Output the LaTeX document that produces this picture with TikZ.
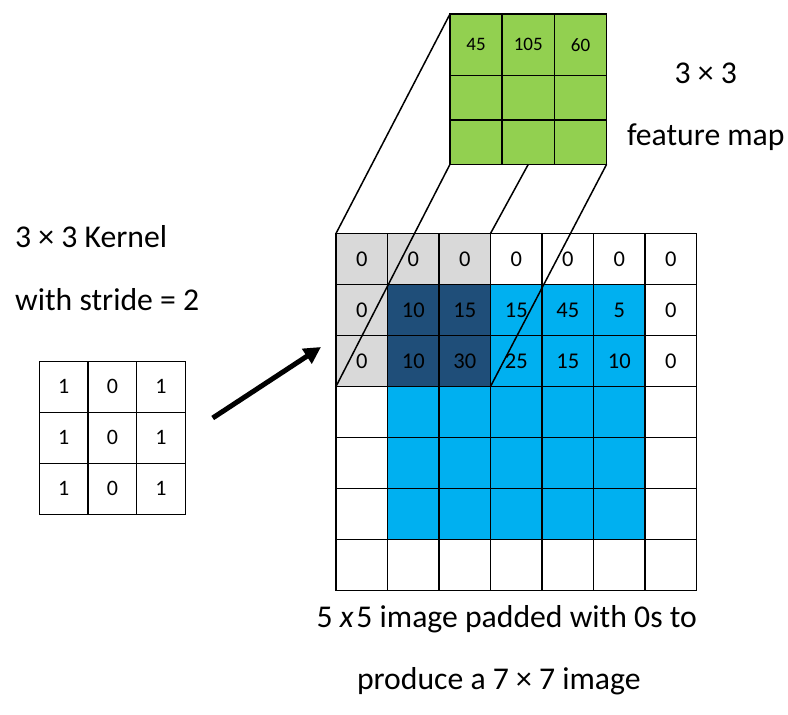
\documentclass[tikz,border=0pt]{standalone}
\usepackage{fontspec}
\setmainfont{Carlito}
\usetikzlibrary{arrows.meta}

\definecolor{padgrey}{HTML}{D9D9D9}
\definecolor{winblue}{HTML}{1F4E79}
\definecolor{imgblue}{HTML}{00B0F0}
\definecolor{mapgreen}{HTML}{92D050}

% values printed in the padded image, row #1, column #2
\newcommand\pxval[2]{\ifcase#1 0\or
  \ifcase#2 0\or 10\or 15\or 15\or 45\or 5\or 0\fi\or
  \ifcase#2 0\or 10\or 30\or 25\or 15\or 10\or 0\fi\else\fi}
% kernel values, column #1
\newcommand\kval[1]{\ifcase#1 1\or 0\or 1\fi}
% feature map values in the top row
\newcommand\fmval[2]{\ifcase#1 \ifcase#2 45\or 105\or 60\fi\else\fi}

\begin{document}
\begin{tikzpicture}[x=1pt,y=-1pt,
  gridcell/.style={draw=black, line width=1.5pt, inner sep=0pt, outer sep=0pt,
    minimum width=51.5pt, minimum height=51pt, font=\fontsize{22.5}{22.5}\selectfont},
  kcell/.style={gridcell, fill=white, minimum width=48.7pt, minimum height=51pt,
    font=\fontsize{22}{22}\selectfont},
  fmcell/.style={gridcell, fill=mapgreen, minimum width=52.2pt, font=\fontsize{19}{19}\selectfont},
  proj/.style={draw=black, line width=1.5pt},
  lbl/.style={inner sep=0pt, font=\fontsize{31.7}{31.7}\selectfont},
  bigarrow/.style={draw=black, line width=5pt, -{Triangle[length=17pt,width=17pt]}}]
\useasboundingbox (0,0) rectangle (788,715);

% padded 7x7 image
\foreach \r in {0,...,6}{
  \foreach \c in {0,...,6}{
    \def\cellfill{white}
    \ifnum\r>0 \ifnum\r<6 \ifnum\c>0 \ifnum\c<6 \def\cellfill{imgblue}\fi\fi\fi\fi
    \ifnum\r<3 \ifnum\c<3 \def\cellfill{padgrey}\fi\fi
    \ifnum\r>0 \ifnum\r<3 \ifnum\c>0 \ifnum\c<3 \def\cellfill{winblue}\fi\fi\fi\fi
    \node[gridcell, fill=\cellfill] (px-\r-\c)
      at ({336+51.5*(\c+0.5)}, {233.5+51*(\r+0.5)}) {\pxval{\r}{\c}};
  }}

% 3x3 kernel
\foreach \r in {0,1,2}{
  \foreach \c in {0,1,2}{
    \node[kcell] (k-\r-\c) at ({39.3+48.7*(\c+0.5)}, {361.3+51*(\r+0.5)}) {\kval{\c}};
  }}

% 3x3 feature map (taller first row)
\foreach \c in {0,1,2}{
  \node[fmcell, minimum height=61.7pt] (fm-0-\c) at ({450+52.2*(\c+0.5)}, 44.85) {\fmval{0}{\c}};
  \node[fmcell, minimum height=44.3pt] (fm-1-\c) at ({450+52.2*(\c+0.5)}, 97.85) {};
  \node[fmcell, minimum height=44.3pt] (fm-2-\c) at ({450+52.2*(\c+0.5)}, 142.15) {};
}

% projection of the window onto the feature map
\draw[proj] (fm-0-0.north west) -- (px-0-0.north west);
\draw[proj] (fm-2-0.south west) -- (px-2-0.south west);
\draw[proj] (fm-2-1.south) -- (px-0-2.north east);
\draw[proj] (fm-2-2.south east) -- (px-2-2.south east);

% kernel moving onto the image
\coordinate (arrowtail) at (212.7,418);
\coordinate (arrowtip) at (321,347);
\draw[bigarrow] (arrowtail) -- (arrowtip);

% labels
\node[lbl, anchor=base west] (kern-title) at (15,247.3) {3 × 3 Kernel};
\node[lbl, anchor=base west] (kern-stride) at (15,310) {with stride = 2};
\node[lbl, anchor=base] (fm-size) at (705.8,83.3) {3 × 3};
\node[lbl, anchor=base] (fm-title) at (705.8,145) {feature map};
\node[lbl, anchor=base] (img-line1) at (506.7,627) {5 {\itshape x}\kern3pt5 image padded with 0s to};
\node[lbl, anchor=base] (img-line2) at (498.8,689) {produce a 7 × 7 image};
\end{tikzpicture}
\end{document}
